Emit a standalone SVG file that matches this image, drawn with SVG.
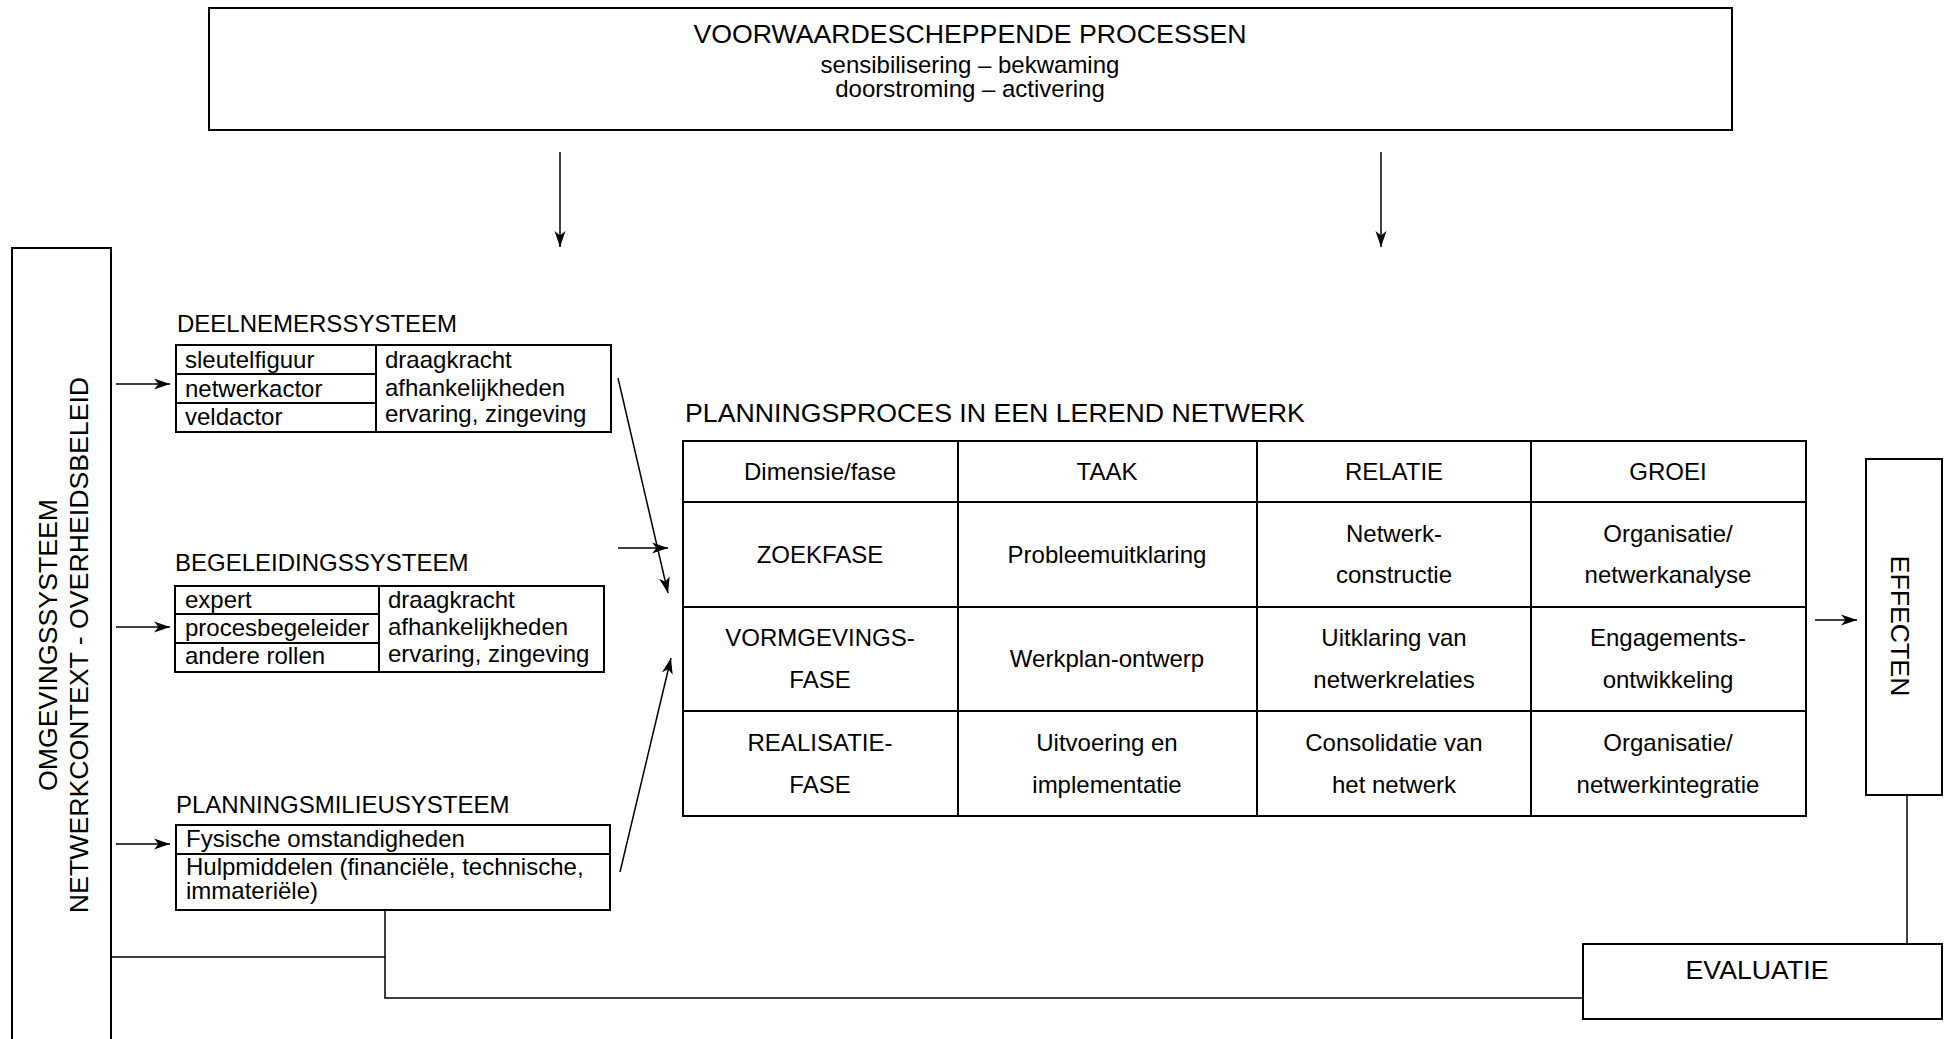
<svg xmlns="http://www.w3.org/2000/svg" width="1951" height="1039" viewBox="0 0 1951 1039">
<defs>
<style>
.t{font-family:"Liberation Sans",Arial,Helvetica,sans-serif;font-size:24px;fill:#000}
.h{font-size:26.7px}
.c{text-anchor:middle}
.box{fill:none;stroke:#000;stroke-width:2}
.ln{fill:none;stroke:#000;stroke-width:1.5}
</style>
<marker id="ah" markerWidth="17" markerHeight="12" refX="16" refY="6" orient="auto" markerUnits="userSpaceOnUse">
<path d="M0,0.5 L16,6 L0,11.5 L4.5,6 z" fill="#000"/>
</marker>
</defs>
<rect width="1951" height="1039" fill="#fff"/>

<g id="voorwaarden">
<rect class="box" x="209" y="8" width="1523" height="122"/>
<text class="t h c" x="970" y="43">VOORWAARDESCHEPPENDE PROCESSEN</text>
<text class="t c" x="970" y="73">sensibilisering – bekwaming</text>
<text class="t c" x="970" y="97">doorstroming – activering</text>
</g>

<g id="omgevingssysteem">
<path class="box" d="M12,1045 V248 H111 V1045"/>
<text class="t h c" transform="translate(56.5,645) rotate(-90)">OMGEVINGSSYSTEEM</text>
<text class="t h c" transform="translate(87.5,645) rotate(-90)">NETWERKCONTEXT - OVERHEIDSBELEID</text>
</g>

<g id="deelnemerssysteem">
<text class="t" x="177" y="332">DEELNEMERSSYSTEEM</text>
<rect class="box" x="176" y="345" width="435" height="87"/>
<path class="box" d="M376,345 V432 M176,374 H376 M176,403 H376"/>
<text class="t" x="185" y="368">sleutelfiguur</text>
<text class="t" x="185" y="397">netwerkactor</text>
<text class="t" x="185" y="425">veldactor</text>
<text class="t" x="385" y="368">draagkracht</text>
<text class="t" x="385" y="396">afhankelijkheden</text>
<text class="t" x="385" y="422">ervaring, zingeving</text>
</g>

<g id="begeleidingssysteem">
<text class="t" x="175" y="571">BEGELEIDINGSSYSTEEM</text>
<rect class="box" x="175" y="586" width="429" height="86"/>
<path class="box" d="M379,586 V672 M175,614 H379 M175,643 H379"/>
<text class="t" x="185" y="608">expert</text>
<text class="t" x="185" y="636">procesbegeleider</text>
<text class="t" x="185" y="664">andere rollen</text>
<text class="t" x="388" y="608">draagkracht</text>
<text class="t" x="388" y="635">afhankelijkheden</text>
<text class="t" x="388" y="662">ervaring, zingeving</text>
</g>

<g id="planningsmilieusysteem">
<text class="t" x="176" y="813">PLANNINGSMILIEUSYSTEEM</text>
<rect class="box" x="176" y="825" width="434" height="85"/>
<path class="box" d="M176,854 H610"/>
<text class="t" x="186" y="847">Fysische omstandigheden</text>
<text class="t" x="186" y="875">Hulpmiddelen (financiële, technische,</text>
<text class="t" x="186" y="899">immateriële)</text>
</g>

<g id="planningsproces">
<text class="t h" x="685" y="422">PLANNINGSPROCES IN EEN LEREND NETWERK</text>
<rect class="box" x="683" y="441" width="1123" height="375"/>
<path class="box" d="M958,441 V816 M1257,441 V816 M1531,441 V816 M683,502 H1806 M683,607 H1806 M683,711 H1806"/>
<text class="t c" x="820" y="480">Dimensie/fase</text>
<text class="t c" x="1107" y="480">TAAK</text>
<text class="t c" x="1394" y="480">RELATIE</text>
<text class="t c" x="1668" y="480">GROEI</text>
<text class="t c" x="820" y="563">ZOEKFASE</text>
<text class="t c" x="1107" y="563">Probleemuitklaring</text>
<text class="t c" x="1394" y="542">Netwerk-</text>
<text class="t c" x="1394" y="583">constructie</text>
<text class="t c" x="1668" y="542">Organisatie/</text>
<text class="t c" x="1668" y="583">netwerkanalyse</text>
<text class="t c" x="820" y="646">VORMGEVINGS-</text>
<text class="t c" x="820" y="688">FASE</text>
<text class="t c" x="1107" y="667">Werkplan-ontwerp</text>
<text class="t c" x="1394" y="646">Uitklaring van</text>
<text class="t c" x="1394" y="688">netwerkrelaties</text>
<text class="t c" x="1668" y="646">Engagements-</text>
<text class="t c" x="1668" y="688">ontwikkeling</text>
<text class="t c" x="820" y="751">REALISATIE-</text>
<text class="t c" x="820" y="793">FASE</text>
<text class="t c" x="1107" y="751">Uitvoering en</text>
<text class="t c" x="1107" y="793">implementatie</text>
<text class="t c" x="1394" y="751">Consolidatie van</text>
<text class="t c" x="1394" y="793">het netwerk</text>
<text class="t c" x="1668" y="751">Organisatie/</text>
<text class="t c" x="1668" y="793">netwerkintegratie</text>
</g>

<g id="effecten">
<rect class="box" x="1866" y="459" width="76" height="336"/>
<text class="t h c" transform="translate(1891,626) rotate(90)">EFFECTEN</text>
</g>

<g id="evaluatie">
<rect class="box" x="1583" y="944" width="359" height="75"/>
<text class="t h c" x="1757" y="979">EVALUATIE</text>
</g>

<g id="connectors">
<line class="ln" x1="560" y1="152" x2="560" y2="247" marker-end="url(#ah)"/>
<line class="ln" x1="1381" y1="152" x2="1381" y2="247" marker-end="url(#ah)"/>
<line class="ln" x1="116" y1="384" x2="170" y2="384" marker-end="url(#ah)"/>
<line class="ln" x1="116" y1="627" x2="170" y2="627" marker-end="url(#ah)"/>
<line class="ln" x1="116" y1="844" x2="170" y2="844" marker-end="url(#ah)"/>
<line class="ln" x1="618" y1="378" x2="668" y2="593" marker-end="url(#ah)"/>
<line class="ln" x1="618" y1="548" x2="668" y2="548" marker-end="url(#ah)"/>
<line class="ln" x1="620" y1="872" x2="671" y2="658" marker-end="url(#ah)"/>
<line class="ln" x1="1815" y1="620" x2="1857" y2="620" marker-end="url(#ah)"/>
<path class="ln" d="M111,957 H385 M385,910 V998 H1583"/>
<path class="ln" d="M1907,795 V944"/>
</g>
</svg>
